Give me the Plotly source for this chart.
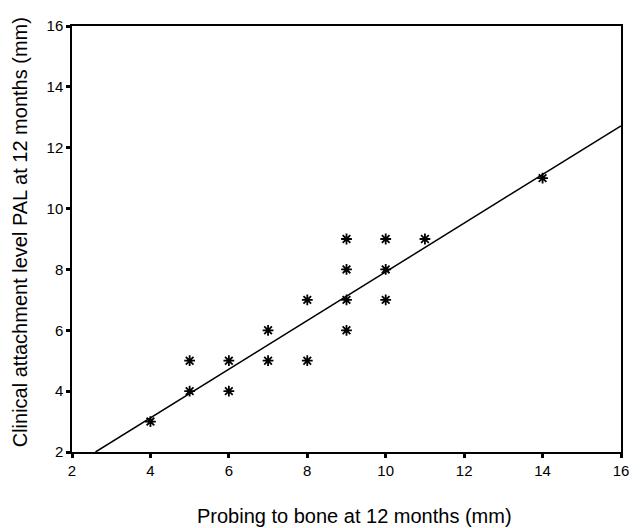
import plotly.graph_objects as go

# Data
probing_mm = [4, 5, 5, 6, 6, 7, 7, 8, 8, 9, 9, 9, 9, 10, 10, 10, 11, 14]
pal_mm =     [3, 4, 5, 4, 5, 5, 6, 5, 7, 6, 7, 8, 9, 7, 8, 9, 9, 11]

# Regression line
fit_slope = 0.80
fit_intercept = -0.08
fit_x = [2.6, 16]

tick_vals = [2, 4, 6, 8, 10, 12, 14, 16]

x_title = "Probing to bone at 12 months (mm)"
y_title = "Clinical attachment level PAL at 12 months (mm)"

fig = go.Figure()
fig.add_trace(go.Scatter(
    x=fit_x, y=[fit_slope * v + fit_intercept for v in fit_x],
    mode="lines", line=dict(color="black", width=1.5), showlegend=False,
    hoverinfo="skip"))
fig.add_trace(go.Scatter(
    x=probing_mm, y=pal_mm, mode="markers",
    marker=dict(symbol="asterisk-open", size=9, color="black",
                line=dict(color="black", width=1.8)),
    showlegend=False))

axis_common = dict(
    range=[2, 16], tickvals=tick_vals, ticks="outside", ticklen=4, tickwidth=2.5,
    tickcolor="black", showline=True, linecolor="black", linewidth=1.5,
    mirror=True, showgrid=False, zeroline=False,
    tickfont=dict(family="Liberation Sans, Arial", size=15, color="black"),
)

L, R, T, B = 72, 17, 26, 76
W, H = 641, 528
pw, ph = W - L - R, H - T - B

fig.update_layout(
    width=W, height=H,
    margin=dict(l=L, r=R, t=T, b=B),
    paper_bgcolor="white", plot_bgcolor="white",
    font=dict(family="Liberation Sans, Arial", color="black"),
    xaxis=dict(**axis_common),
    yaxis=dict(**axis_common),
    annotations=[
        dict(text=x_title, xref="paper", yref="paper",
             x=(356 - L) / pw, y=(T + ph - 516) / ph,
             xanchor="center", yanchor="middle", showarrow=False,
             font=dict(size=20, color="black")),
        dict(text=y_title, xref="paper", yref="paper", textangle=-90,
             x=(20 - L) / pw, y=(T + ph - 232) / ph,
             xanchor="center", yanchor="middle", showarrow=False,
             font=dict(size=20, color="black")),
    ],
)

fig.write_html(
    "out.html",
    config={"displayModeBar": False},
    post_script="document.body.style.margin='0';"
                "document.body.style.overflow='hidden';",
)
